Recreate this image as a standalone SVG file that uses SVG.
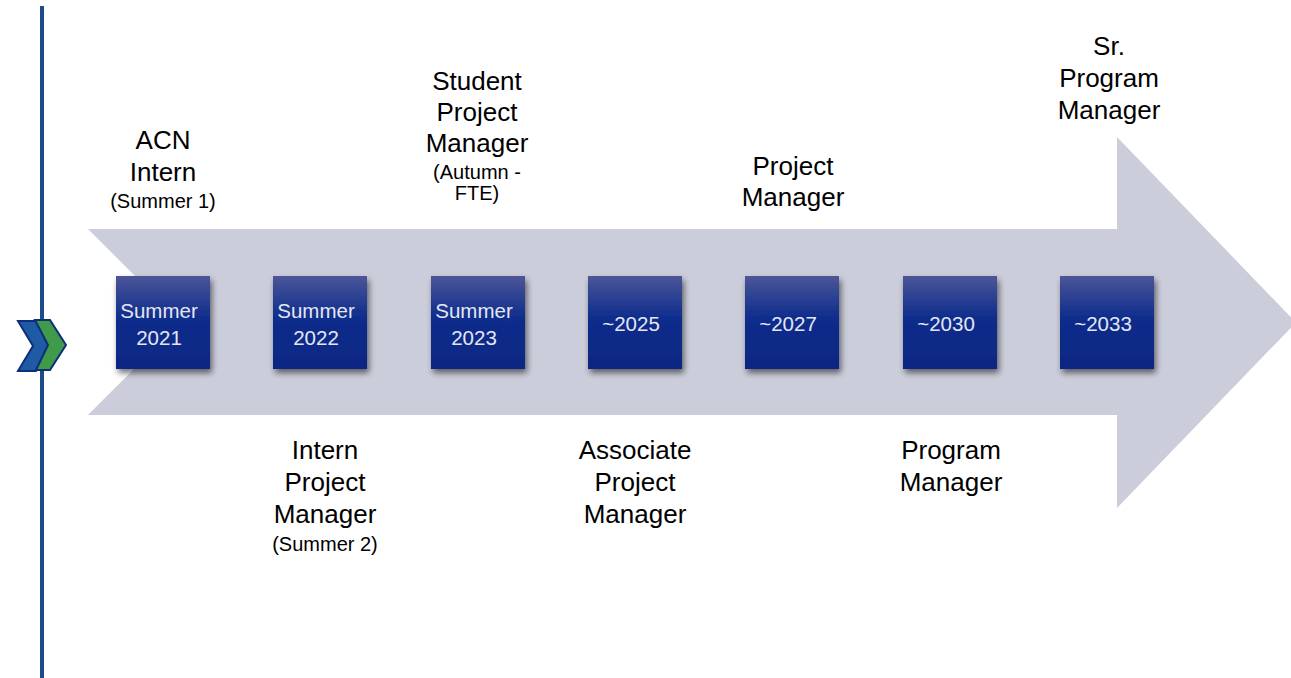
<svg xmlns="http://www.w3.org/2000/svg" width="1291" height="678" viewBox="0 0 1291 678">
<defs>
<linearGradient id="boxg" x1="0" y1="0" x2="0" y2="1">
<stop offset="0" stop-color="#4c5698"/>
<stop offset="0.45" stop-color="#0e2d8c"/>
<stop offset="1" stop-color="#0a2784"/>
</linearGradient>
<filter id="sh" x="-20%" y="-20%" width="150%" height="150%">
<feGaussianBlur in="SourceAlpha" stdDeviation="3"/>
<feOffset dx="2" dy="4" result="b"/>
<feComponentTransfer><feFuncA type="linear" slope="0.55"/></feComponentTransfer>
<feMerge><feMergeNode/><feMergeNode in="SourceGraphic"/></feMerge>
</filter>
<style>
.box{fill:url(#boxg);filter:url(#sh)}
.bt{font-family:"Liberation Sans",Arial,sans-serif;font-size:20.5px;fill:#e4e6f2;text-anchor:middle}
.lb{font-family:"Liberation Sans",Arial,sans-serif;font-size:26px;fill:#000;text-anchor:middle}
.sm{font-family:"Liberation Sans",Arial,sans-serif;font-size:20px;fill:#000;text-anchor:middle}
.chev{stroke:#0d2e7a;stroke-width:2;stroke-linejoin:miter}
</style>
</defs>
<rect width="1291" height="678" fill="#ffffff"/>
<g id="arrow">
<polygon points="88,229 1117,229 1117,137 1296,322.5 1117,508 1117,415 88,415 181,322" fill="#cbcdda"/>
</g>
<g id="connectors">
<line x1="42" y1="6" x2="42" y2="678" stroke="#1e4b8a" stroke-width="4"/>
</g>
<g id="marker-chevrons">
<polygon class="chev" points="18,321 36,321 53,346 36,371 18,371 33,346" fill="#1f5aa5"/>
<polygon class="chev" points="35,320 50,320 66,345 50,370 36,370 48,345" fill="#3f9a4a"/>
</g>
<g id="node-2021">
<rect class="box" x="116" y="276" width="94" height="93"/>
<text class="bt" x="159" y="318">Summer</text>
<text class="bt" x="159" y="345">2021</text>
</g>
<g id="node-2022">
<rect class="box" x="273" y="276" width="94" height="93"/>
<text class="bt" x="316" y="318">Summer</text>
<text class="bt" x="316" y="345">2022</text>
</g>
<g id="node-2023">
<rect class="box" x="431" y="276" width="94" height="93"/>
<text class="bt" x="474" y="318">Summer</text>
<text class="bt" x="474" y="345">2023</text>
</g>
<g id="node-2025">
<rect class="box" x="588" y="276" width="94" height="93"/>
<text class="bt" x="631" y="331">~2025</text>
</g>
<g id="node-2027">
<rect class="box" x="745" y="276" width="94" height="93"/>
<text class="bt" x="788" y="331">~2027</text>
</g>
<g id="node-2030">
<rect class="box" x="903" y="276" width="94" height="93"/>
<text class="bt" x="946" y="331">~2030</text>
</g>
<g id="node-2033">
<rect class="box" x="1060" y="276" width="94" height="93"/>
<text class="bt" x="1103" y="331">~2033</text>
</g>
<g id="label-acn-intern">
<text class="lb" x="163" y="149">ACN</text>
<text class="lb" x="163" y="181">Intern</text>
<text class="sm" x="163" y="208">(Summer 1)</text>
</g>
<g id="label-student-pm">
<text class="lb" x="477" y="90">Student</text>
<text class="lb" x="477" y="121">Project</text>
<text class="lb" x="477" y="152">Manager</text>
<text class="sm" x="477" y="179">(Autumn -</text>
<text class="sm" x="477" y="200">FTE)</text>
</g>
<g id="label-pm">
<text class="lb" x="793" y="175">Project</text>
<text class="lb" x="793" y="206">Manager</text>
</g>
<g id="label-sr-program-manager">
<text class="lb" x="1109" y="55">Sr.</text>
<text class="lb" x="1109" y="87">Program</text>
<text class="lb" x="1109" y="119">Manager</text>
</g>
<g id="label-intern-pm">
<text class="lb" x="325" y="459">Intern</text>
<text class="lb" x="325" y="491">Project</text>
<text class="lb" x="325" y="523">Manager</text>
<text class="sm" x="325" y="551">(Summer 2)</text>
</g>
<g id="label-associate-pm">
<text class="lb" x="635" y="459">Associate</text>
<text class="lb" x="635" y="491">Project</text>
<text class="lb" x="635" y="523">Manager</text>
</g>
<g id="label-program-manager">
<text class="lb" x="951" y="459">Program</text>
<text class="lb" x="951" y="491">Manager</text>
</g>
</svg>
